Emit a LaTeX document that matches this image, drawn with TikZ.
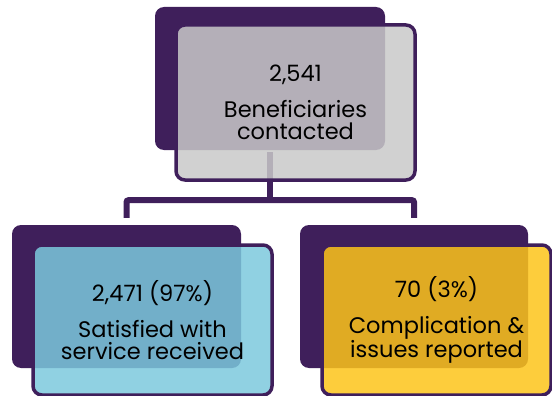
\documentclass[tikz,border=0pt]{standalone}
\usepackage{fontspec}
\setmainfont{Poppins}
\begin{document}
\begin{tikzpicture}[x=1pt,y=1pt,
  backbox/.style={rectangle, rounded corners=9pt, fill=dpurple, inner sep=0pt},
  frontbox/.style={rectangle, rounded corners=9pt, draw=dpurple, line width=3.5pt, fill opacity=0.85, text opacity=1, inner sep=0pt, align=center, font=\fontsize{22.5}{22}\selectfont},
  conn/.style={draw=dpurple, line width=6pt, rounded corners=2pt}]
\definecolor{dpurple}{RGB}{63,31,91}
\definecolor{lgray}{RGB}{201,201,201}
\definecolor{lblue}{RGB}{124,201,221}
\definecolor{lyellow}{RGB}{253,196,26}
\useasboundingbox (0,0) rectangle (552,-396);
% back boxes
\node[backbox, minimum width=230pt, minimum height=143pt] (topback) at (270,-78.5) {};
\node[backbox, minimum width=229pt, minimum height=143pt] (leftback) at (126.5,-296.5) {};
\node[backbox, minimum width=228pt, minimum height=143pt] (rightback) at (414,-296.5) {};
% connectors
\draw[conn] ([yshift=-2pt]topback.south) -- ++(0,-48) coordinate (junc);
\draw[conn] ([yshift=7pt]leftback.north) |- (junc) -| ([yshift=7pt]rightback.north);
% front boxes
\node[frontbox, fill=lgray, minimum width=239pt, minimum height=155pt] (topfront) at (295.5,-102.5) {2,541\\[14pt]Beneficiaries\\contacted};
\node[frontbox, fill=lblue, minimum width=239pt, minimum height=150pt] (leftfront) at (152.5,-320) {2,471 (97\%)\\[14pt]Satisfied with\\service received};
\node[frontbox, fill=lyellow, minimum width=229pt, minimum height=150pt] (rightfront) at (436.5,-320) {70 (3\%)\\[14pt]Complication \&\\issues reported};
\end{tikzpicture}
\end{document}
